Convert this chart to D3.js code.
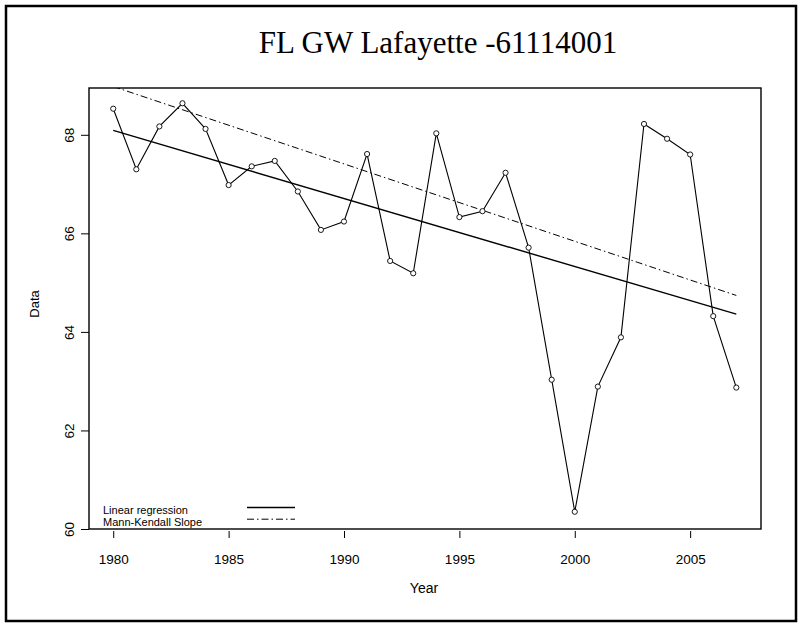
<!DOCTYPE html>
<html>
<head>
<meta charset="utf-8">
<script src="https://cdn.jsdelivr.net/npm/d3@7"></script>
<style>
  html, body { margin: 0; padding: 0; background: #fff; }
  svg { display: block; }
</style>
</head>
<body>
<div id="chart"></div>
<script>
// series
const years = [1980,1981,1982,1983,1984,1985,1986,1987,1988,1989,1990,1991,1992,1993,
               1994,1995,1996,1997,1998,1999,2000,2001,2002,2003,2004,2005,2006,2007];
const values = [68.53,67.30,68.17,68.64,68.12,66.98,67.36,67.47,66.85,66.07,66.24,67.61,65.44,65.19,
                68.03,66.33,66.45,67.23,65.71,63.03,60.35,62.89,63.89,68.22,67.92,67.60,64.32,62.87];
// fitted lines, end points at first/last year
const regYears = [1980, 2007];
const regValues = [68.09, 64.36];
const mkYears = [1980, 2007];
const mkValues = [68.98, 64.74];
const xTicks = [1980, 1985, 1990, 1995, 2000, 2005];
const yTicks = [60, 62, 64, 66, 68];
const title = 'FL GW Lafayette -61114001';

(function() {
  const W = 801, H = 624;
  const L = 89, R = 761, T = 88, B = 529;

  const x = d3.scaleLinear().domain([1978.95, 2008.07]).range([L, R]);
  const y = d3.scaleLinear().domain([60, 68.95]).range([B, T]);

  const svg = d3.select('#chart').append('svg').attr('width', W).attr('height', H);
  const sans = 'Arial, "Liberation Sans", sans-serif';

  // outer frame
  svg.append('rect').attr('x', 6).attr('y', 6).attr('width', 790).attr('height', 615)
    .attr('fill', 'none').attr('stroke', '#000').attr('stroke-width', 2.5);

  svg.append('text').attr('x', 438).attr('y', 53).attr('text-anchor', 'middle')
    .style('font-family', '"Liberation Serif", "Times New Roman", serif').style('font-size', '31px')
    .text(title);

  svg.append('defs').append('clipPath').attr('id', 'clip')
    .append('rect').attr('x', L).attr('y', T).attr('width', R - L).attr('height', B - T);

  // plot box
  svg.append('rect').attr('x', L).attr('y', T).attr('width', R - L).attr('height', B - T)
    .attr('fill', 'none').attr('stroke', '#000').attr('stroke-width', 1.4);

  // axes
  const xAx = svg.append('g').attr('transform', `translate(0,${B + 2})`)
    .call(d3.axisBottom(x).tickValues(xTicks).tickFormat(d3.format('d')).tickSize(7).tickPadding(16));
  xAx.select('.domain').remove();
  xAx.selectAll('text').style('font-family', sans).style('font-size', '13.5px').attr('fill', '#000');

  const yAx = svg.append('g').attr('transform', `translate(${L},0)`)
    .call(d3.axisLeft(y).tickValues(yTicks).tickSize(8).tickPadding(0));
  yAx.select('.domain').remove();
  yAx.selectAll('.tick text')
    .attr('x', null).attr('dy', null)
    .attr('transform', 'translate(-15,0) rotate(-90)')
    .attr('text-anchor', 'middle')
    .style('font-family', sans).style('font-size', '13.5px').attr('fill', '#000');

  svg.append('text').attr('x', 424).attr('y', 593).attr('text-anchor', 'middle')
    .style('font-family', sans).style('font-size', '14px').text('Year');
  svg.append('text').attr('transform', 'translate(38.5,304) rotate(-90)').attr('text-anchor', 'middle')
    .style('font-family', sans).style('font-size', '13px').text('Data');

  const g = svg.append('g').attr('clip-path', 'url(#clip)');
  const line = d3.line().x(d => x(d[0])).y(d => y(d[1]));

  g.append('path').datum(d3.zip(regYears, regValues)).attr('d', line)
    .attr('fill', 'none').attr('stroke', '#000').attr('stroke-width', 1.4);
  g.append('path').datum(d3.zip(mkYears, mkValues)).attr('d', line)
    .attr('fill', 'none').attr('stroke', '#000').attr('stroke-width', 1)
    .attr('stroke-dasharray', '7,3,1.5,3');

  const pts = d3.zip(years, values);
  g.append('path').datum(pts).attr('d', line)
    .attr('fill', 'none').attr('stroke', '#000').attr('stroke-width', 1.1);
  g.selectAll('circle').data(pts).join('circle')
    .attr('cx', d => x(d[0])).attr('cy', d => y(d[1])).attr('r', 2.6)
    .attr('fill', '#fff').attr('stroke', '#000').attr('stroke-width', 0.9);

  // legend
  const leg = [['Linear regression', null, 1.4], ['Mann-Kendall Slope', '7,3,1.5,3', 1]];
  leg.forEach((d, i) => {
    svg.append('text').attr('x', 103).attr('y', 513.5 + i * 12)
      .style('font-family', sans).style('font-size', '11px').text(d[0]);
    svg.append('line').attr('x1', 247).attr('x2', 295)
      .attr('y1', 507.5 + i * 11.7).attr('y2', 507.5 + i * 11.7)
      .attr('stroke', '#000').attr('stroke-width', d[2])
      .attr('stroke-dasharray', d[1]);
  });
})();
</script>
</body>
</html>
